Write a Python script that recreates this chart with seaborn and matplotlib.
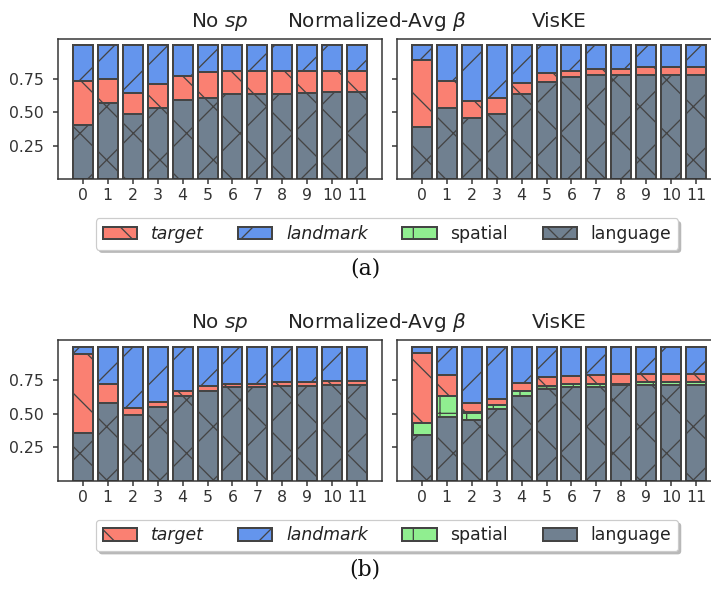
import numpy as np
import matplotlib
matplotlib.use("Agg")
import matplotlib.pyplot as plt
from matplotlib.patches import Patch
import seaborn as sns

# Per-layer share of attention, layers 0..11 (bottom to top: language, spatial, target, landmark)
layers = list(range(12))
components = ["target", "landmark", "spatial", "language"]

# (a) "No sp"
a_nosp_language = [0.408, 0.572, 0.483, 0.535, 0.590, 0.609, 0.634, 0.634, 0.634, 0.647, 0.650, 0.650]
a_nosp_spatial = [0.0] * 12
a_nosp_target = [0.326, 0.174, 0.164, 0.174, 0.181, 0.192, 0.177, 0.177, 0.177, 0.164, 0.160, 0.160]
a_nosp_landmark = [0.266, 0.254, 0.353, 0.291, 0.229, 0.199, 0.189, 0.189, 0.189, 0.189, 0.190, 0.190]

# (a) "VisKE"
a_viske_language = [0.386, 0.535, 0.460, 0.483, 0.637, 0.724, 0.764, 0.776, 0.776, 0.776, 0.776, 0.776]
a_viske_spatial = [0.0] * 12
a_viske_target = [0.500, 0.199, 0.122, 0.124, 0.084, 0.065, 0.047, 0.047, 0.045, 0.058, 0.058, 0.058]
a_viske_landmark = [0.114, 0.266, 0.418, 0.393, 0.279, 0.211, 0.189, 0.177, 0.179, 0.166, 0.166, 0.166]

# (b) "No sp"
b_nosp_language = [0.353, 0.582, 0.493, 0.552, 0.634, 0.672, 0.697, 0.697, 0.709, 0.709, 0.714, 0.714]
b_nosp_spatial = [0.0] * 12
b_nosp_target = [0.595, 0.137, 0.052, 0.033, 0.038, 0.034, 0.024, 0.024, 0.027, 0.027, 0.030, 0.030]
b_nosp_landmark = [0.052, 0.281, 0.455, 0.415, 0.328, 0.294, 0.279, 0.279, 0.264, 0.264, 0.256, 0.256]

# (b) "VisKE"
b_viske_language = [0.338, 0.472, 0.455, 0.533, 0.633, 0.687, 0.701, 0.700, 0.711, 0.714, 0.714, 0.714]
b_viske_spatial = [0.090, 0.158, 0.060, 0.035, 0.033, 0.019, 0.018, 0.019, 0.014, 0.023, 0.023, 0.023]
b_viske_target = [0.522, 0.160, 0.065, 0.042, 0.065, 0.065, 0.062, 0.071, 0.068, 0.059, 0.059, 0.059]
b_viske_landmark = [0.050, 0.210, 0.420, 0.390, 0.269, 0.229, 0.219, 0.210, 0.207, 0.204, 0.204, 0.204]

COLORS = {"target": "salmon", "landmark": "cornflowerblue",
          "spatial": "lightgreen", "language": "slategray"}
HATCHES = {"target": "\\", "landmark": "/", "spatial": "+", "language": "x"}
EDGE = "#444444"

W, H, DPI = 711, 596, 160


def pt(px):
    """Convert a size in output pixels to points."""
    return px * 72.0 / DPI


sns.set_theme(style="ticks")
plt.rcParams.update({
    "font.family": ["DejaVu Sans"],
    "hatch.linewidth": pt(1.3),
    "axes.linewidth": pt(1.5),
    "axes.edgecolor": "#333333",
    "xtick.major.size": pt(5),
    "ytick.major.size": pt(5),
    "xtick.major.width": pt(1.5),
    "ytick.major.width": pt(1.5),
    "xtick.color": "#333333",
    "ytick.color": "#333333",
    "xtick.labelsize": pt(15.7),
    "ytick.labelsize": pt(15.7),
    "xtick.major.pad": pt(4),
    "ytick.major.pad": pt(9),
    "mathtext.fontset": "dejavusans",
})

fig = plt.figure(figsize=(W / DPI, H / DPI), dpi=DPI)


def px_axes(x0, x1, ytop, ybot):
    return fig.add_axes([x0 / W, 1 - ybot / H, (x1 - x0) / W, (ybot - ytop) / H])


def stacked(ax, language, spatial, target, landmark):
    lang = np.asarray(language)
    sp = np.asarray(spatial)
    tg = np.asarray(target)
    lm = np.asarray(landmark)
    levels = [
        ("landmark", lang + sp + tg + lm),
        ("target", lang + sp + tg),
        ("spatial", lang + sp),
        ("language", lang),
    ]
    for name, heights in levels:
        sns.barplot(x=layers, y=heights, ax=ax, color=COLORS[name], saturation=1,
                    edgecolor=EDGE, linewidth=pt(2.0), hatch=HATCHES[name],
                    errorbar=None, width=0.8)
    ax.set_xlim(-0.99, 11.99)
    ax.set_ylim(0, 1.05)
    ax.set_yticks([0.25, 0.50, 0.75])
    ax.set_yticklabels(["0.25", "0.50", "0.75"])
    ax.set_xlabel("")
    ax.set_ylabel("")
    for s in ax.spines.values():
        s.set_visible(True)


panels = [
    ("(a)", 0, (a_nosp_language, a_nosp_spatial, a_nosp_target, a_nosp_landmark),
     (a_viske_language, a_viske_spatial, a_viske_target, a_viske_landmark)),
    ("(b)", 301.5, (b_nosp_language, b_nosp_spatial, b_nosp_target, b_nosp_landmark),
     (b_viske_language, b_viske_spatial, b_viske_target, b_viske_landmark)),
]

handles = [Patch(facecolor=COLORS[c], edgecolor=EDGE, linewidth=pt(2.0), hatch=HATCHES[c])
           for c in components]

TITLE_PX = 20
for caption, dy, left_data, right_data in panels:
    top, bot = 38.5 + dy, 179.2 + dy
    ax_l = px_axes(58, 382, top, bot)
    ax_r = px_axes(397, 721, top, bot)
    stacked(ax_l, *left_data)
    stacked(ax_r, *right_data)
    ax_r.tick_params(labelleft=False)
    ax_l.set_title("No $sp$", fontsize=pt(TITLE_PX), pad=pt(11.5))
    ax_r.set_title("VisKE", fontsize=pt(TITLE_PX), pad=pt(11.5))
    fig.text(376.5 / W, 1 - (27.0 + dy) / H, r"Normalized-Avg $\beta$",
             fontsize=pt(TITLE_PX), ha="center", va="baseline", color="#222222")

    leg = fig.legend(handles, components, loc="center", ncol=4,
                     bbox_to_anchor=(387 / W, 1 - (234 + dy) / H),
                     fontsize=pt(17.2), frameon=True, fancybox=True,
                     shadow={"ox": pt(3), "oy": -pt(3), "facecolor": "0.45",
                             "edgecolor": "none", "alpha": 0.5},
                     handlelength=2.0, handleheight=0.7,
                     columnspacing=2.0, handletextpad=0.8, borderpad=0.4)
    leg.get_frame().set_linewidth(pt(1.2))
    leg.get_frame().set_edgecolor("#cccccc")
    for t, name in zip(leg.get_texts(), components):
        t.set_color("#222222")
        if name in ("target", "landmark"):
            t.set_fontstyle("italic")

    fig.text(365 / W, 1 - (268 + dy) / H, caption, fontsize=pt(22),
             family="DejaVu Serif", ha="center", va="center", color="#111111")

fig.savefig("out.png", dpi=DPI)
